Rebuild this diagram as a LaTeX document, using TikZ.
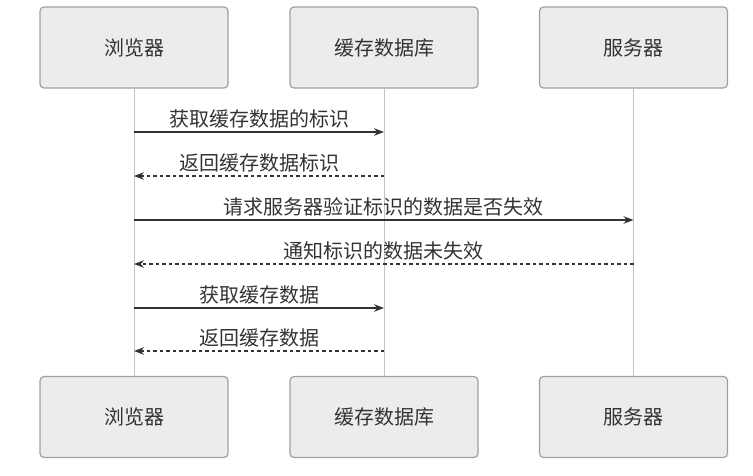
\documentclass[tikz,border=0pt]{standalone}
\usepackage{fontspec}
\setmainfont{Noto Sans CJK SC}
\usepackage{xcolor}
\usepackage{tikz}
\usetikzlibrary{arrows.meta,positioning}
\definecolor{boxfill}{HTML}{ECECEC}
\definecolor{boxline}{HTML}{A0A0A0}
\definecolor{lifegray}{HTML}{C4C4C4}
\definecolor{msggray}{HTML}{333333}
\tikzset{
  actorbox/.style={draw=boxline, line width=1.2pt, rounded corners=4pt, fill=boxfill, align=center, minimum width=188, minimum height=81, text=msggray},
  lifeline/.style={draw=lifegray, line width=1pt},
  callarrow/.style={-{Stealth[length=10pt, width=7.5pt]}, line width=1.6pt, draw=msggray},
  replyarrow/.style={-{Stealth[length=10pt, width=7.5pt]}, line width=1.6pt, draw=msggray, dash pattern=on 3.5pt off 3pt},
  msglabel/.style={above=2pt, inner sep=1pt, text=msggray}
}

\begin{document}
\begin{tikzpicture}[x=1pt, y=-1pt, font=\fontsize{20}{23}\selectfont]
  \useasboundingbox (0,0) rectangle (753,475);

  \node[actorbox] (browserTop) at (134,47.5) {浏览器};
  \node[actorbox] (cacheTop) at (384,47.5) {缓存数据库};
  \node[actorbox] (serverTop) at (633.5,47.5) {服务器};

  \node[actorbox] (browserBot) at (134,417) {浏览器};
  \node[actorbox] (cacheBot) at (384,417) {缓存数据库};
  \node[actorbox] (serverBot) at (633.5,417) {服务器};

  \draw[lifeline] (browserTop) -- (browserBot);
  \draw[lifeline] (cacheTop) -- (cacheBot);
  \draw[lifeline] (serverTop) -- (serverBot);

  % message rows
  \coordinate (row1) at (0,132);
  \coordinate (row2) at (0,176);
  \coordinate (row3) at (0,220);
  \coordinate (row4) at (0,264);
  \coordinate (row5) at (0,308);
  \coordinate (row6) at (0,351);

  \draw[callarrow] (browserTop |- row1) -- node[msglabel] {获取缓存数据的标识} (cacheTop |- row1);
  \draw[replyarrow] (cacheTop |- row2) -- node[msglabel] {返回缓存数据标识} (browserTop |- row2);
  \draw[callarrow] (browserTop |- row3) -- node[msglabel] {请求服务器验证标识的数据是否失效} (serverTop |- row3);
  \draw[replyarrow] (serverTop |- row4) -- node[msglabel] {通知标识的数据未失效} (browserTop |- row4);
  \draw[callarrow] (browserTop |- row5) -- node[msglabel] {获取缓存数据} (cacheTop |- row5);
  \draw[replyarrow] (cacheTop |- row6) -- node[msglabel] {返回缓存数据} (browserTop |- row6);
\end{tikzpicture}
\end{document}
